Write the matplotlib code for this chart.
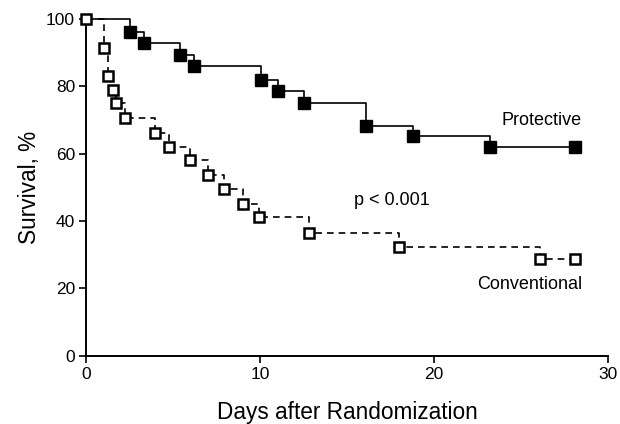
import matplotlib
matplotlib.use("Agg")
import matplotlib.pyplot as plt

plt.rcParams['font.family'] = ['Liberation Sans', 'DejaVu Sans']

# Kaplan-Meier steps
prot_days = [0, 2.5, 3.3, 5.4, 6.2, 10.05, 11.0, 12.5, 16.1, 18.8, 23.2, 28.1]
prot_surv = [100, 96.1, 92.9, 89.4, 86.0, 81.8, 78.6, 75.0, 68.2, 65.2, 61.9, 61.9]

conv_days = [0, 1.0, 1.24, 1.55, 1.72, 2.25, 3.93, 4.75, 5.95, 7.0, 7.9, 9.0, 9.95, 12.8, 18.0, 26.1, 28.1]
conv_surv = [100, 91.4, 83.0, 79.0, 75.0, 70.6, 66.3, 62.0, 58.0, 53.8, 49.5, 45.2, 41.1, 36.6, 32.4, 28.6, 28.6]

xticks = [0, 10, 20, 30]
yticks = [0, 20, 40, 60, 80, 100]

fig = plt.figure(figsize=(6.2, 4.24), dpi=100)
ax = fig.add_axes([0.139, 0.161, 0.842, 0.794])

# conventional - dashed line, open squares
ax.plot(conv_days, conv_surv, drawstyle='steps-post', color='black',
        linestyle=(0, (4, 3)), linewidth=1.2, clip_on=False)
ax.plot(conv_days, conv_surv, linestyle='none', marker='s', markersize=6.5,
        markerfacecolor='white', markeredgecolor='black', markeredgewidth=1.8,
        clip_on=False, zorder=4)

# protective - solid line, filled squares
ax.plot(prot_days, prot_surv, drawstyle='steps-post', color='black',
        linewidth=1.2, clip_on=False)
ax.plot(prot_days[1:], prot_surv[1:], linestyle='none', marker='s', markersize=8,
        color='black', clip_on=False, zorder=4)

ax.set_xlim(0, 30)
ax.set_ylim(0, 100)
ax.set_xticks(xticks)
ax.set_yticks(yticks)
ax.spines['top'].set_visible(False)
ax.spines['right'].set_visible(False)
ax.spines['left'].set_linewidth(1.4)
ax.spines['bottom'].set_linewidth(1.4)
ax.tick_params(direction='out', length=5, width=1.2, labelsize=12.5, pad=3)

ax.set_xlabel("Days after Randomization", fontsize=16.3, labelpad=14)
ax.set_ylabel("Survival, %", fontsize=16.3, labelpad=4)

ax.text(28.5, 69.8, "Protective", fontsize=13, ha='right', va='center')
ax.text(28.5, 21.3, "Conventional", fontsize=13, ha='right', va='center')
ax.text(15.4, 46.2, "p < 0.001", fontsize=13, ha='left', va='center')

fig.savefig("out.png", dpi=100)
